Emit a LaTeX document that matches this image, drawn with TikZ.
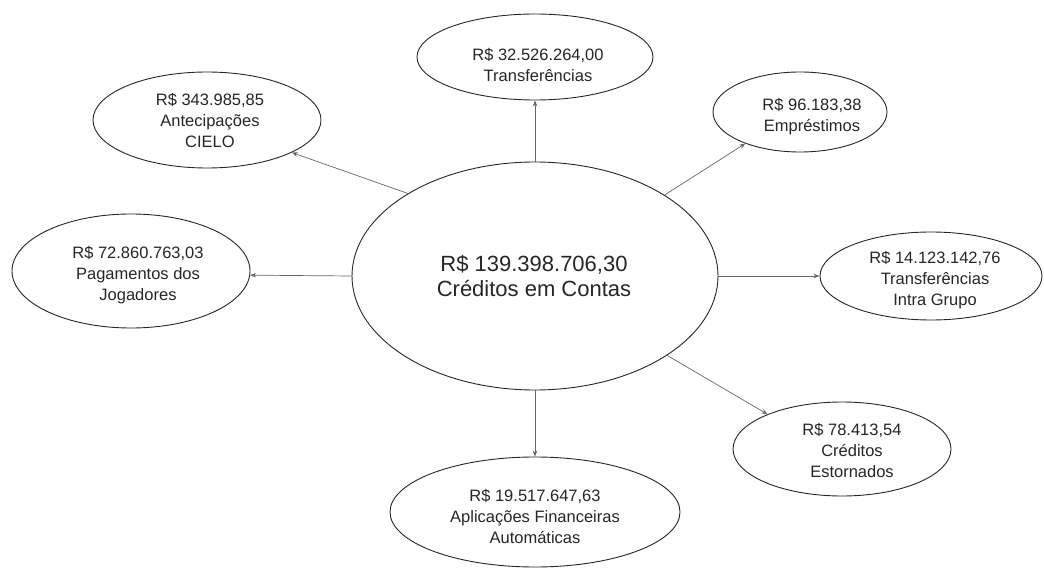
\documentclass[tikz,border=0pt]{standalone}
\usepackage{fontspec}
\setmainfont{Liberation Sans}
\usetikzlibrary{shapes.geometric,arrows.meta}
\tikzset{
  ell/.style={draw=black!85, line width=0.9pt, ellipse, inner sep=0pt},
  txt/.style={align=center, font=\fontsize{16.5}{21}\selectfont, text=black!85},
  bigtxt/.style={align=center, font=\fontsize{22}{25}\selectfont, text=black!85},
  conn/.style={draw=black!60, line width=0.7pt, -{Stealth[length=6pt,width=4.5pt]}}
}
\begin{document}
\begin{tikzpicture}[x=1pt,y=-1pt]
\useasboundingbox (0,0) rectangle (1044,569);
% ellipses
\node[ell, minimum width=366pt, minimum height=228pt] (c) at (535,276) {};
\node[ell, minimum width=236pt, minimum height=86pt] (t) at (535,57) {};
\node[ell, minimum width=228pt, minimum height=96pt] (cielo) at (207,120) {};
\node[ell, minimum width=174pt, minimum height=80pt] (emp) at (800,112) {};
\node[ell, minimum width=238pt, minimum height=114pt] (pag) at (131,271) {};
\node[ell, minimum width=222pt, minimum height=88pt] (intra) at (931,276) {};
\node[ell, minimum width=218pt, minimum height=94pt] (est) at (842,449) {};
\node[ell, minimum width=290pt, minimum height=110pt] (apl) at (535,512) {};
% texts
\node[bigtxt] (ct) at (534,276) {R\$ 139.398.706,30\\Créditos em Contas};
\node[txt] (tt) at (538,65) {R\$ 32.526.264,00\\Transferências};
\node[txt] (cielot) at (210,120) {R\$ 343.985,85\\Antecipações\\CIELO};
\node[txt] (empt) at (812,117) {R\$ 96.183,38\\Empréstimos};
\node[txt] (pagt) at (138,275) {R\$ 72.860.763,03\\Pagamentos dos\\Jogadores};
\node[txt] (intrat) at (935,280) {R\$ 14.123.142,76\\Transferências\\Intra Grupo};
\node[txt] (estt) at (852,450) {R\$ 78.413,54\\Créditos\\Estornados};
\node[txt] (aplt) at (535,516) {R\$ 19.517.647,63\\Aplicações Financeiras\\Automáticas};
% connectors
\draw[conn] (c.north) -- (t.south);
\draw[conn] (c.147.4) -- (cielo.-21);
\draw[conn] (c.32.5) -- (emp.210);
\draw[conn] (c.west) -- (pag.-2.4);
\draw[conn] (c.east) -- (intra.west);
\draw[conn] (c.-31.7) -- (est.155.5);
\draw[conn] (c.south) -- (apl.north);
\end{tikzpicture}
\end{document}
